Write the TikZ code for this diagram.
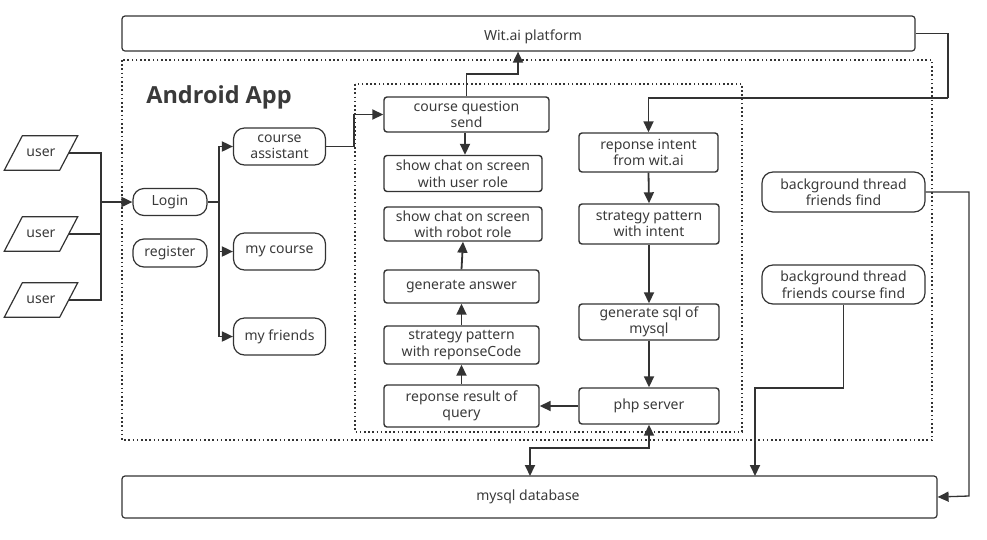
\documentclass[tikz,border=0pt]{standalone}
\usepackage{fontspec}
\setmainfont{Noto Sans}
\newfontfamily\titlefont{Open Sans}
\usetikzlibrary{arrows.meta}
\definecolor{ink}{HTML}{333333}
\definecolor{txt}{HTML}{3A3A3A}
\begin{document}
\begin{tikzpicture}[x=1pt,y=-1pt,
  every node/.style={font=\fontsize{14}{16.5}\selectfont, text=txt, align=center, inner sep=0pt},
  sqbox/.style={draw=ink, line width=1.4pt, rounded corners=3pt, minimum width=#1, minimum height=36pt},
  sqbox/.default=158pt,
  pill/.style={draw=ink, line width=1.2pt, rounded corners=11pt, minimum width=#1, minimum height=30pt},
  pill/.default=92pt,
  bigbox/.style={draw=ink, line width=1.2pt, rounded corners=3pt},
  tip/.style={-{Triangle[length=11pt,width=10pt]}},
  conn/.style={draw=ink, line width=1.8pt, tip},
  thin/.style={draw=ink, line width=1.3pt},
  thinarr/.style={draw=ink, line width=1.3pt, tip},
  dotbox/.style={draw=ink, line width=1.8pt, dash pattern=on 1.6pt off 2.6pt},
  userbox/.style={minimum width=55pt, minimum height=34pt},
  para/.style={draw=ink, line width=1.2pt}
]
\useasboundingbox (0,0) rectangle (987,539);

% containers
\node[bigbox, minimum width=793pt, minimum height=35pt] (wit) at (518.5,33.5) {};
\node at (533,37) {Wit.ai platform};
\draw[dotbox] (122,60) rectangle (932,440);
\draw[dotbox] (355,84) rectangle (742,432);
\node[font=\titlefont\fontsize{23.5}{26}\selectfont\bfseries] (title) at (219,97) {Android App};
\node[bigbox, minimum width=815pt, minimum height=42pt] (db) at (529.5,497) {};
\node at (528,497) {mysql database};

% users
\foreach \n/\y in {u1/153, u2/234, u3/300}{
  \node[userbox] (\n) at (41,\y) {user};
  \draw[para] ([xshift=9pt]\n.north west) -- ([xshift=9pt]\n.north east) -- ([xshift=-9pt]\n.south east) -- ([xshift=-9pt]\n.south west) -- cycle;
}

% left column
\node[pill=74pt, minimum height=27pt] (login) at (170,202) {Login};
\node[pill=74pt, minimum height=28pt] (reg) at (170,253) {register};
\node[pill, minimum height=37pt] (ca) at (279.5,146.5) {course\\assistant};
\node[pill, minimum height=37pt] (mc) at (279.5,251.5) {my course};
\node[pill, minimum height=37pt] (mf) at (279.5,336.5) {my friends};

% inner boxes left
\node[sqbox=165pt, minimum height=35pt] (cqs) at (466.5,114.5) {course question\\send};
\node[sqbox] (scu) at (463,173.5) {show chat on screen\\with user role};
\node[sqbox, minimum height=34pt] (scr) at (463,224) {show chat on screen\\with robot role};
\node[sqbox=155pt, minimum height=33pt] (ga) at (461.5,286.5) {generate answer};
\node[sqbox=155pt, minimum height=38pt] (spr) at (461.5,345) {strategy pattern\\with reponseCode};
\node[sqbox=155pt, minimum height=42pt] (rrq) at (461.5,406) {reponse result of\\query};

% inner boxes right
\node[sqbox=139pt, minimum height=39pt] (ri) at (648.5,152.5) {reponse intent\\from wit.ai};
\node[sqbox=140pt, minimum height=40pt] (spi) at (649,224) {strategy pattern\\with intent};
\node[sqbox=140pt] (gs) at (649,322) {generate sql of\\mysql};
\node[sqbox=140pt] (php) at (649,406) {php server};

% background threads
\node[pill=163pt, minimum height=40pt] (bf) at (843.5,192) {background thread\\friends find};
\node[pill=163pt, minimum height=39pt] (bfc) at (843.5,284.5) {background thread\\friends course find};

% connectors: users to login
\draw[thin, line width=1.8pt] (u1.east) -| (101,202);
\draw[thin, line width=1.8pt] (u2.east) -| (101,202);
\draw[thin, line width=1.8pt] (u3.east) -| (101,202);
\draw[conn] (101,202) -- (login.west);

% login to menus
\coordinate (lj) at (219,202);
\draw[thin, line width=1.8pt] (login.east) -- (lj);
\draw[conn] (lj) |- (ca.west);
\draw[conn] (lj) |- (mc.west);
\draw[conn] (lj) |- (mf.west);

% course assistant to cqs
\draw[conn] (ca.east) -- (354,146.5) |- (cqs.west);

% cqs to wit
\draw[conn] (cqs.north) -- (466.5,74) -| (wit.south -| 518,0);
\draw[conn] (cqs.south -| 465,0) -- (scu.north -| 465,0);

% left column upward
\draw[conn] (rrq.north) -- (spr.south);
\draw[conn] (spr.north) -- (ga.south);
\draw[conn] (ga.north) -- (scr.south);

% wit to intent
\draw[thin] (wit.east) -| (948,98);
\draw[thinarr, line width=1.8pt] (948,98) -| (ri.north);
\draw[conn] (ri.south) -- (spi.north);
\draw[conn] (spi.south) -- (gs.north);
\draw[conn] (gs.south) -- (php.north);
\draw[conn] (php.west) -- (rrq.east);

% php to db
\draw[conn, {Triangle[length=11pt,width=10pt]}-{Triangle[length=11pt,width=10pt]}] (php.south) -- (649,448) -| (530,476);

% background threads to db
\draw[thinarr] (bf.east) -| (969,496) -- (db.east);
\draw[thinarr, line width=1.8pt] (bfc.south) -- (843.5,388) -| (755,476);
\end{tikzpicture}
\end{document}
